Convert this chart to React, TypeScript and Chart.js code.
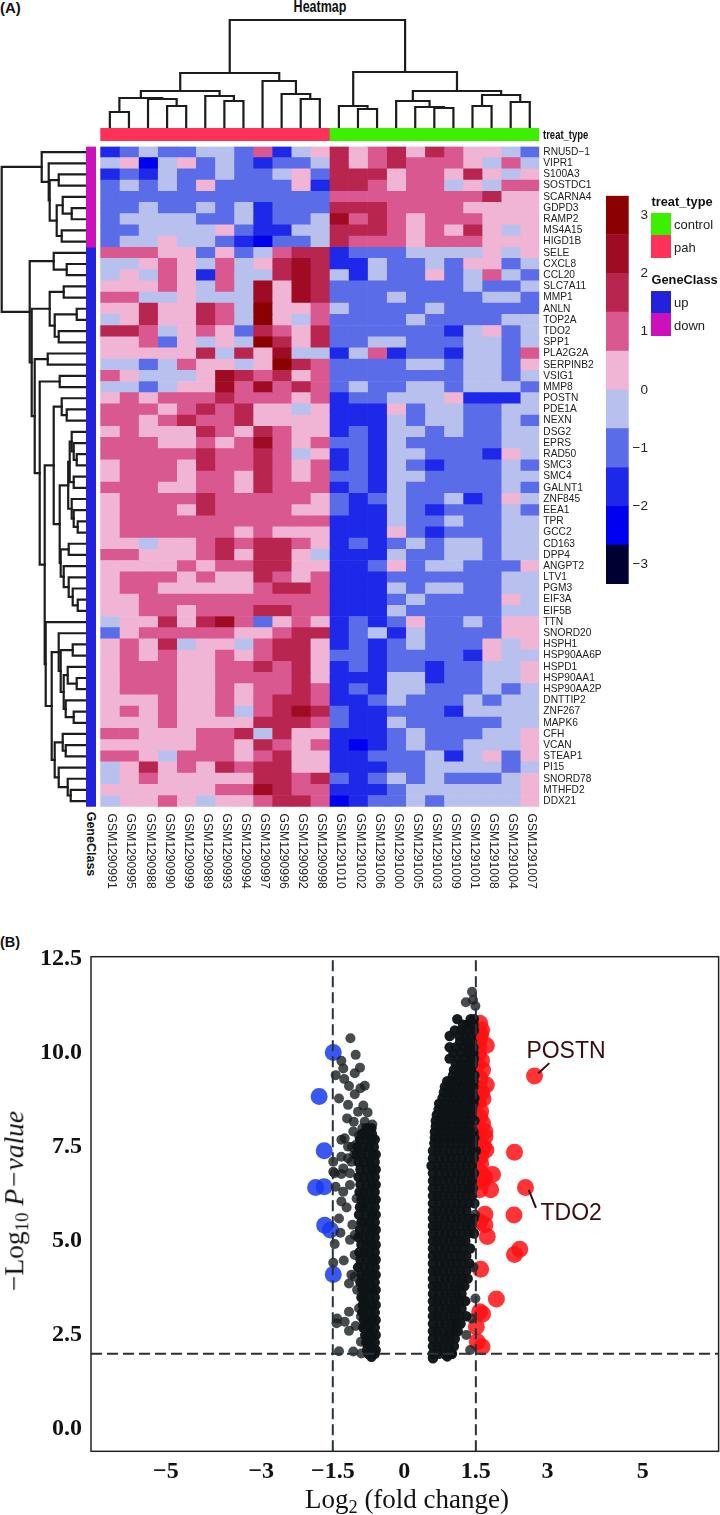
import React, { useEffect, useRef } from "react";
import { Chart, registerables } from "chart.js";
Chart.register(...registerables);

const sampleNames = ["GSM1290991","GSM1290995","GSM1290988","GSM1290990","GSM1290999","GSM1290989","GSM1290993","GSM1290994","GSM1290997","GSM1290996","GSM1290992","GSM1290998","GSM1291010","GSM1291002","GSM1291006","GSM1291000","GSM1291005","GSM1291003","GSM1291009","GSM1291001","GSM1291008","GSM1291004","GSM1291007"];
const geneNames = ["RNU5D−1","VIPR1","S100A3","SOSTDC1","SCARNA4","GDPD3","RAMP2","MS4A15","HIGD1B","SELE","CXCL8","CCL20","SLC7A11","MMP1","ANLN","TOP2A","TDO2","SPP1","PLA2G2A","SERPINB2","VSIG1","MMP8","POSTN","PDE1A","NEXN","DSG2","EPRS","RAD50","SMC3","SMC4","GALNT1","ZNF845","EEA1","TPR","GCC2","CD163","DPP4","ANGPT2","LTV1","PGM3","EIF3A","EIF5B","TTN","SNORD20","HSPH1","HSP90AA6P","HSPD1","HSP90AA1","HSP90AA2P","DNTTIP2","ZNF267","MAPK6","CFH","VCAN","STEAP1","PI15","SNORD78","MTHFD2","DDX21"];
// Colour bin of each cell, 0 (lowest) to 9 (highest), one string per gene and one digit per sample.
const heatRows = [
"23433443624575675765543","45145343233475676665464","23243343345377756657545","34343533335277656645466","33333333333366666666755",
"33433434233377766665555","34444334233486765666555","33444453224477765657545","34454432133476665666555","66655353467723334444545",
"44565464578722433435534","45465264478742433534643","55565464858733333334334","66445444858733343333443","55755764955643333433333",
"45755764954633334333344","77645653765733333324534","55635454975733443334434","55555747584424623324436","44346554597633334434435",
"65444587675633333334434","44345586867634334434443","56566676665623344452224","66656767554522253443344","66567667555522243443343",
"56555765765523244343344","66655656865633243333344","66666766764523244333254","56665766765623243233343","56665665765633244333344",
"66655665766623243333343","56666766666532343342354","56665766665532243233343","56666666666622243343344","56666665655522253233344",
"55455676776523234344344","66555675775422243344344","55556566775522353443335","56665655765622233333344","56655555677622243443344",
"55666666666622234333354","55665666776622243333344","45575786356523235334355","35666665567723424333355","56574554677523234333545",
"56565565677533233332544","56665566767523233233445","56665566667522244233445","56665565667623244333434","55565565677622343334344",
"56565564678732233324444","55565555777632243333344","66555667475522234333445","55555665765621234334445","66546665675522333424535",
"45756576775522233444434","45655555776732343433345","55555566876622234444445","45565455677612334344445"];
const heatColors = ["#000033","#0000f0","#1e28e8","#5a6ce8","#b8c0ee","#f0b4d4","#d9588f","#b8254f","#9e0b22","#8b0000"];
const colorBreaks = [-3.333,-2.667,-2,-1.333,-0.667,0,0.667,1.333,2,2.667,3.333];
const colorTicks = [-3,-2,-1,0,1,2,3];

// Leaf = index; a merge = 100 + its position in the list. [left, right, height]
const topMerges = [[0,1,15],[3,4,21],[2,101,28],[100,102,29],[6,7,26],[5,104,31],[103,105,36],[10,11,28],[9,107,33],[8,108,46],[106,109,54],[13,14,18],[12,111,21],[17,18,19],[16,113,20],[15,114,26],[19,20,21],[21,22,25],[116,117,32],[115,118,36],[112,119,55],[110,120,107]];
const leftMerges = [[5,6,14],[4,100,23],[7,8,24],[101,102,29],[2,3,27],[104,103,36],[1,105,37],[0,106,44],[10,11,19],[9,108,32],[12,13,22],[14,15,9],[16,17,27],[111,112,31],[110,113,36],[18,19,38],[20,21,26],[23,24,19],[22,117,24],[27,28,9],[26,119,12],[25,120,14],[29,30,12],[121,122,16],[33,34,8],[32,124,12],[31,125,14],[123,126,17.5],[35,36,17],[40,41,8],[39,129,13],[38,130,17],[37,131,22],[128,132,25],[127,133,26],[118,134,32],[44,45,13],[47,48,9],[46,137,18],[50,51,12],[49,139,20],[138,140,22],[136,141,25],[43,142,27],[53,54,20],[52,144,23],[57,58,15],[56,146,18],[55,147,27],[145,148,31],[143,149,34],[42,150,40],[135,151,41],[116,152,46],[115,153,51],[114,154,54],[109,155,56],[107,156,84]];
const treatGroups = [{ name: "pah", n: 12, color: "#ff3158" }, { name: "control", n: 11, color: "#3cf000" }];
const geneGroups = [{ name: "down", n: 9, color: "#cc10bb" }, { name: "up", n: 50, color: "#2222dd" }];

// Volcano plot
const xTicks = [-5,-3,-1.5,0,1.5,3,5];
const yTicks = [0,2.5,5,7.5,10,12.5];
const bluePoints = [[-1.49,10.01],[-1.786,8.84],[-1.68,7.4],[-1.86,6.42],[-1.68,6.44],[-1.67,5.42],[-1.55,5.29],[-1.49,4.11]];
const redPoints = [[2.73,9.39],[1.58,10.79],[1.62,10.61],[1.72,10.2],[1.58,10.39],[1.55,9.99],[1.64,9.55],[1.58,9.33],[1.72,9.15],[1.55,9.06],[1.65,8.78],[1.55,8.71],[1.48,8.66],[1.64,8.13],[1.69,7.91],[1.69,7.77],[1.55,7.64],[1.71,7.42],[2.31,7.36],[1.55,7.91],[1.58,6.84],[1.85,6.77],[1.69,6.69],[1.58,6.36],[1.81,6.36],[1.64,6.58],[2.54,6.42],[2.3,5.69],[1.69,5.71],[1.69,5.43],[1.58,5.51],[1.74,5.12],[2.42,4.78],[2.31,4.64],[1.6,4.25],[1.93,3.46],[1.64,3.06],[1.58,3.12],[1.51,2.72],[1.53,2.32],[1.63,2.19],[1.6,10.5],[1.56,10.2],[1.62,9.8],[1.52,9.7],[1.62,8.95],[1.6,8.45],[1.58,8.3],[1.66,7.5],[1.6,7.25],[1.6,7.05],[1.55,6.6]];
const grayScatter = [[-1.13,10.39],[-1.02,9.95],[-1.32,9.79],[-0.93,9.61],[-1.28,9.59],[-1.44,9.41],[-1.04,9.46],[-1.26,9.31],[-1.16,9.12],[-0.83,9.13],[-0.92,9.06],[-1.04,8.9],[-1.37,8.79],[-0.86,8.6],[-1.18,8.62],[-0.77,8.42],[-0.97,8.44],[-1.2,8.26],[-1.06,8.17],[-0.83,8.17],[-0.67,8.1],[-1.32,7.69],[-1.25,7.73],[-1.07,7.91],[-1.18,7.51],[-1.32,7.24],[-1.49,7.11],[-1.11,7.11],[-1.49,6.84],[-1.28,6.93],[-1.46,6.8],[-1.32,6.78],[-1.14,6.8],[-1.44,6.44],[-1.28,6.31],[-1.14,6.49],[-1.32,6.05],[-1.21,5.89],[-1,6.13],[-1.37,5.6],[-1.09,5.43],[-1.34,5.22],[-1.46,4.92],[-1.14,5.03],[-1.04,5.16],[-1.04,4.63],[-1.27,4.48],[-1.49,4.42],[-1.11,4.1],[-1.04,4.05],[-1.16,3.87],[-0.99,3.7],[-1.16,3.12],[-1.41,2.94],[-1.42,2.81],[-1.25,2.85],[-1.02,2.74],[-1.16,2.61],[-0.91,2.99],[-0.95,3.21],[-0.91,2.32],[-1.37,2.07],[-1.07,2.06],[-0.9,2.01],
[-1.1,7.5],[-1.05,7.3],[-1.18,7.2],[-1.02,7.55],[-0.95,7.8],[-0.88,8],
[1.42,11.63],[1.29,11.35],[1.44,11.41],[1.49,11.25],[1.41,2.94],[1.49,3.47],[1.3,2.5],[1.38,2.1],[1.45,4.3],[1.48,5.7]];
// Dense clouds: [y, x, x, ...]
const leftCloud = [[8,-0.79,-0.69],[7.85,-0.88,-0.76,-0.68],[7.7,-0.93,-0.8,-0.7,-0.62],[7.5,-0.98,-0.86,-0.74,-0.64],[7.3,-1,-0.9,-0.78,-0.66,-0.6],[7.1,-0.96,-0.84,-0.72,-0.62],[6.9,-0.92,-0.8,-0.68,-0.6],[6.7,-0.96,-0.84,-0.72,-0.62],[6.5,-0.92,-0.8,-0.68,-0.6],[6.3,-0.94,-0.84,-0.72,-0.62],[6.1,-0.9,-0.8,-0.68,-0.6],[5.9,-0.93,-0.84,-0.72,-0.62],[5.7,-0.95,-0.8,-0.68,-0.6],[5.5,-0.9,-0.84,-0.72,-0.62],[5.3,-0.93,-0.8,-0.68,-0.6],[5.1,-0.96,-0.84,-0.72,-0.62],[4.9,-0.9,-0.8,-0.68,-0.6],[4.7,-0.94,-0.84,-0.72,-0.62],[4.5,-0.92,-0.8,-0.68,-0.6],[4.3,-0.97,-0.84,-0.72,-0.62],[4.1,-0.9,-0.8,-0.68,-0.6],[3.9,-0.92,-0.84,-0.72,-0.62],[3.7,-0.88,-0.8,-0.68,-0.6],[3.5,-0.9,-0.84,-0.72,-0.62],[3.3,-0.87,-0.8,-0.68,-0.6],[3.1,-0.88,-0.84,-0.72,-0.62],[2.9,-0.85,-0.78,-0.68,-0.6],[2.7,-0.86,-0.82,-0.72,-0.62],[2.5,-0.82,-0.76,-0.68,-0.6],[2.3,-0.8,-0.72,-0.62],[2.1,-0.78,-0.68,-0.6],[2,-0.75,-0.62],[1.92,-0.69]];
const rightCloud = [[10.9,1.11,1.39,1.46],[10.75,1.23,1.32,1.45],[10.6,1.06,1.2,1.33,1.46],[10.45,0.95,1.15,1.28,1.4],[10.3,1.17,1.3,1.42],[10.15,0.95,1.08,1.24,1.36,1.45],[10,1.03,1.2,1.33,1.45],[9.85,0.95,1.13,1.26,1.4,1.46],[9.7,1.08,1.2,1.32,1.44],[9.55,1.04,1.16,1.28,1.4],[9.4,1.02,1.14,1.26,1.38,1.47],[9.25,0.9,1,1.12,1.24,1.36,1.45],[9.1,0.85,0.97,1.09,1.21,1.33,1.45],[8.95,0.83,0.95,1.07,1.19,1.31,1.43],[8.8,0.8,0.92,1.04,1.16,1.28,1.4,1.47],[8.65,0.73,0.85,0.97,1.09,1.21,1.33,1.45],[8.5,0.72,0.82,0.94,1.06,1.18,1.3,1.42],[8.35,0.68,0.8,0.92,1.04,1.16,1.28,1.4],[8.2,0.66,0.78,0.9,1.02,1.14,1.26,1.38,1.47],[8.05,0.66,0.76,0.88,1,1.12,1.24,1.36],[7.9,0.64,0.76,0.88,1,1.12,1.24,1.36,1.45],
[7.75,0.64,0.72,0.84,0.96,1.08,1.2,1.32,1.47],[7.6,0.63,0.72,0.84,0.96,1.08,1.2,1.32,1.44],[7.4,0.6,0.7,0.82,0.94,1.06,1.18,1.3,1.42,1.5],[7.2,0.6,0.74,0.86,0.98,1.1,1.22,1.34,1.46],[7,0.57,0.7,0.82,0.94,1.06,1.18,1.3,1.42],[6.8,0.6,0.74,0.86,0.98,1.1,1.22,1.34,1.46],[6.6,0.6,0.7,0.82,0.94,1.06,1.18,1.3,1.42],[6.4,0.6,0.74,0.86,0.98,1.1,1.22,1.34,1.44],[6.2,0.6,0.7,0.82,0.94,1.06,1.18,1.3,1.42],[6,0.6,0.74,0.86,0.98,1.1,1.22,1.34,1.47],[5.8,0.6,0.7,0.82,0.94,1.06,1.18,1.3],[5.6,0.6,0.74,0.86,0.98,1.1,1.22,1.34,1.45],[5.4,0.6,0.7,0.82,0.94,1.06,1.18,1.3,1.4],[5.2,0.6,0.74,0.86,0.98,1.1,1.22,1.34,1.46],[5,0.6,0.7,0.82,0.94,1.06,1.18,1.28],[4.8,0.6,0.74,0.86,0.98,1.1,1.22,1.38],[4.6,0.6,0.7,0.82,0.94,1.06,1.18,1.3],[4.4,0.6,0.74,0.86,0.98,1.1,1.22,1.36],[4.2,0.6,0.7,0.82,0.94,1.06,1.18,1.3],[4,0.6,0.74,0.86,0.98,1.1,1.2,1.33],[3.8,0.6,0.7,0.82,0.94,1.06,1.16,1.26],[3.6,0.6,0.74,0.86,0.98,1.08,1.2],[3.4,0.6,0.7,0.82,0.94,1.06,1.16,1.28],[3.2,0.6,0.74,0.86,0.98,1.08,1.2],[3,0.6,0.7,0.82,0.94,1.06,1.16,1.3],[2.8,0.6,0.74,0.86,0.98,1.08,1.18],[2.6,0.6,0.7,0.82,0.94,1.04,1.12],[2.4,0.6,0.74,0.86,0.96,1.06],[2.2,0.6,0.7,0.82,0.94,1.04],[2,0.6,0.72,0.84,0.98,1],[1.93,0.9],[1.88,0.6]];
const foldCuts = [-1.5, 1.5];
const pCut = 2;
const geneCallouts = [
  { name: "POSTN", x: 3.39, y: 10.03, line: [[3.04,9.73],[2.81,9.46]] },
  { name: "TDO2", x: 3.5, y: 5.72, line: [[2.61,6.36],[2.76,5.88]] },
];

const SANS = "'Liberation Sans', Arial, sans-serif";
const SERIF = "'Liberation Serif', 'Times New Roman', serif";
const off = { display: false };
const noPad = (s: any) => { s.paddingLeft = 0; s.paddingRight = 0; s.paddingTop = 0; s.paddingBottom = 0; };

function dendroSegments(merges: number[][], horizontal: boolean) {
  const pos: Record<number, number> = {};
  const hgt: Record<number, number> = {};
  const at = (n: number) => (n >= 100 ? pos[n] : n + 0.5);
  const ht = (n: number) => (n >= 100 ? hgt[n] : 0);
  return merges.map(([a, b, h], k) => {
    const pa = at(a), pb = at(b);
    pos[100 + k] = (pa + pb) / 2;
    hgt[100 + k] = h;
    const path = [[pa, ht(a)], [pa, h], [pb, h], [pb, ht(b)]];
    return {
      data: path.map(([p, v]) => (horizontal ? { x: p, y: v } : { x: v, y: p })),
      showLine: true, pointRadius: 0, borderColor: "#1c1c1c", borderWidth: 2.2, tension: 0, clip: false,
      borderCapStyle: "square", borderJoinStyle: "miter",
    };
  });
}

const base = { responsive: false, animation: false, plugins: { legend: off, tooltip: { enabled: false } }, events: [] as string[] };

const heatmapConfig = () => ({
  type: "bar",
  data: {
    labels: geneNames,
    datasets: sampleNames.map((name, c) => ({
      label: name,
      data: geneNames.map(() => 1),
      backgroundColor: heatRows.map((row) => heatColors[+row[c]]),
      barPercentage: 1, categoryPercentage: 1, borderWidth: 0,
    })),
  },
  options: {
    ...base, indexAxis: "y",
    layout: { autoPadding: false, padding: { left: 0.3, top: 0.5 } },
    scales: {
      x: {
        type: "linear", stacked: true, min: 0, max: 23, position: "bottom",
        grid: off, border: off,
        afterBuildTicks: (s: any) => { s.ticks = sampleNames.map((_, i) => ({ value: i + 0.6 })); },
        afterFit: (s: any) => { s.height = 93.3; noPad(s); },
        ticks: { autoSkip: false, minRotation: -90, maxRotation: -90, padding: 74, color: "#222", font: { family: SANS, size: 12.2 },
          callback: (_v: any, i: number) => sampleNames[i] },
      },
      y: {
        stacked: true, position: "right", grid: { display: false, drawTicks: false }, border: off,
        afterFit: (s: any) => { s.width = 180.7; noPad(s); },
        ticks: { autoSkip: false, padding: 4, color: "#222", font: { family: SANS, size: 10.2 } },
      },
    },
  },
});

const treatBarConfig = () => ({
  type: "bar",
  data: { labels: ["treat_type"], datasets: treatGroups.map((g) => ({ label: g.name, data: [g.n], backgroundColor: g.color, barPercentage: 1, categoryPercentage: 1 })) },
  options: { ...base, indexAxis: "y", layout: { autoPadding: false, padding: { left: 0.3, right: 0.7 } },
    scales: { x: { display: false, stacked: true, min: 0, max: 23 }, y: { display: false, stacked: true } } },
});

const geneBarConfig = () => ({
  type: "bar",
  data: { labels: ["GeneClass"], datasets: geneGroups.map((g) => ({ label: g.name, data: [g.n], backgroundColor: g.color, barPercentage: 1, categoryPercentage: 1 })) },
  options: { ...base, layout: { autoPadding: false, padding: { top: 0.5, bottom: 0.3 } },
    scales: { y: { display: false, stacked: true, reverse: true, min: 0, max: 59 }, x: { display: false, stacked: true } } },
});

const topDendroConfig = () => ({
  type: "scatter",
  data: { datasets: dendroSegments(topMerges, true) },
  options: { ...base, layout: { autoPadding: false, padding: { left: 0.3, right: 0.7, top: 2, bottom: 2 } },
    scales: { x: { display: false, type: "linear", min: 0, max: 23 }, y: { display: false, min: 0, max: 107 } } },
});

const leftDendroConfig = () => ({
  type: "scatter",
  data: { datasets: dendroSegments(leftMerges, false) },
  options: { ...base, layout: { autoPadding: false, padding: { left: 1.7, right: 0.3, top: 0.5, bottom: 0.3 } },
    scales: { x: { display: false, type: "linear", reverse: true, min: 0, max: 84 }, y: { display: false, reverse: true, min: 0, max: 59 } } },
});

const colorKeyConfig = () => ({
  type: "bar",
  data: {
    labels: ["z"],
    datasets: heatColors.map((color, i) => ({ data: [[colorBreaks[i], colorBreaks[i + 1]]], backgroundColor: color, barPercentage: 1, categoryPercentage: 1, grouped: false })),
  },
  options: { ...base, layout: { autoPadding: false, padding: { top: 0.7, bottom: 1 } },
    scales: {
      x: { display: false, stacked: false },
      y: { min: colorBreaks[0], max: colorBreaks[10], position: "right", grid: { display: false, drawTicks: false }, border: off,
        afterBuildTicks: (s: any) => { s.ticks = colorTicks.map((value) => ({ value })); },
        afterFit: (s: any) => { s.width = 19.3; noPad(s); },
        ticks: { crossAlign: "far", padding: 2, color: "#222", font: { family: SANS, size: 13.5 },
          callback: (v: number) => String(v).replace("-", "−") } },
    } },
});

const cloudPoints = (rows: number[][]) => rows.flatMap(([y, ...xs]) => xs.map((x) => ({ x, y })));
const toXY = (pts: number[][]) => pts.map(([x, y]) => ({ x, y }));

const frameAndLabels = {
  id: "frameAndLabels",
  afterDatasetsDraw(chart: any) {
    const { ctx, chartArea: a, scales } = chart;
    ctx.save();
    ctx.strokeStyle = "#222";
    ctx.lineWidth = 1.5;
    ctx.strokeRect(a.left, a.top, a.right - a.left, a.bottom - a.top);
    ctx.fillStyle = "#3a0c10";
    ctx.font = `23px ${SANS}`;
    ctx.textAlign = "center";
    ctx.textBaseline = "middle";
    geneCallouts.forEach((g) => ctx.fillText(g.name, scales.x.getPixelForValue(g.x), scales.y.getPixelForValue(g.y)));
    ctx.restore();
  },
};

const volcanoConfig = () => {
  const dash = { showLine: true, pointRadius: 0, borderColor: "#27323a", borderWidth: 2, borderDash: [11, 5], order: 0 };
  return {
    type: "scatter",
    data: {
      datasets: [
        { data: toXY(bluePoints), backgroundColor: "rgba(24,58,240,0.85)", pointRadius: 8.5, borderWidth: 0, order: 4 },
        { data: toXY(redPoints), backgroundColor: "rgba(255,16,20,0.85)", pointRadius: 8.5, borderWidth: 0, order: 4 },
        { data: toXY(grayScatter), backgroundColor: "rgba(24,30,33,0.8)", pointRadius: 5, borderWidth: 0, order: 3 },
        { data: [...cloudPoints(leftCloud), ...cloudPoints(rightCloud)], backgroundColor: "rgba(14,20,23,0.97)", pointRadius: 5.2, borderWidth: 0, order: 2 },
        ...geneCallouts.map((g) => ({ data: toXY(g.line), showLine: true, pointRadius: 0, borderColor: "#3a0c10", borderWidth: 2, order: 1 })),
        ...foldCuts.map((x) => ({ ...dash, data: [{ x, y: -0.593 }, { x, y: 12.56 }] })),
        { ...dash, data: [{ x: -6.57, y: pCut }, { x: 6.59, y: pCut }] },
      ],
    },
    options: {
      ...base,
      layout: { autoPadding: false, padding: { top: 11.7, right: 1.4 } },
      scales: {
        x: { type: "linear", min: -6.57, max: 6.59, grid: { display: false, drawTicks: true, tickLength: 6, tickWidth: 1.8, tickColor: "#222" }, border: off,
          afterBuildTicks: (s: any) => { s.ticks = xTicks.map((value) => ({ value })); },
          afterFit: (s: any) => { s.height = 63.7; noPad(s); },
          ticks: { autoSkip: false, maxRotation: 0, padding: 0, color: "#111", font: { family: SERIF, size: 24, weight: "bold" },
            callback: (v: number) => String(v).replace("-", "−") } },
        y: { min: -0.593, max: 12.56, grid: { display: false, drawTicks: true, tickLength: 6, tickWidth: 1.8, tickColor: "#222" }, border: off,
          afterBuildTicks: (s: any) => { s.ticks = yTicks.map((value) => ({ value })); },
          afterFit: (s: any) => { s.width = 91; noPad(s); },
          ticks: { padding: 3, color: "#111", font: { family: SERIF, size: 24, weight: "bold" }, callback: (v: number) => v.toFixed(1) } },
      },
    },
    plugins: [frameAndLabels],
  };
};

function Panel({ config, left, top, width, height }: { config: () => any; left: number; top: number; width: number; height: number }) {
  const ref = useRef<HTMLCanvasElement>(null);
  useEffect(() => {
    const chart = new Chart(ref.current as HTMLCanvasElement, config());
    return () => chart.destroy();
  }, []);
  return <canvas ref={ref} width={width} height={height} style={{ position: "absolute", left, top, width, height }} />;
}

function Label({ x, y, children, font, color = "#111", rotate, center, stretch }: any) {
  const tf = `${center ? "translate(-50%,-50%)" : "translateY(-50%)"}${rotate ? ` rotate(${rotate}deg)` : ""}${stretch ? ` scaleY(${stretch})` : ""}`;
  return <div style={{ position: "absolute", left: x, top: y, transform: tf, font, color, whiteSpace: "nowrap", lineHeight: 1 }}>{children}</div>;
}

function Swatch({ x, y, w, h, color }: any) {
  return <div style={{ position: "absolute", left: x, top: y, width: w, height: h, background: color }} />;
}

const sub = { fontSize: "0.68em", lineHeight: 0, verticalAlign: "-0.28em" };

export default function App() {
  return (
    <div style={{ position: "absolute", left: 0, top: 0, width: 720, height: 1515, overflow: "hidden", background: "#fff" }}>
      <Label x={0} y={7} font={`bold 15px ${SANS}`}>(A)</Label>
      <Label x={320} y={7} center stretch={1.25} font={`bold 12.5px ${SANS}`}>Heatmap</Label>
      <Panel config={topDendroConfig} left={100} top={18} width={440} height={111} />
      <Panel config={treatBarConfig} left={100} top={128} width={440} height={13} />
      <Label x={543} y={135} stretch={1.25} font={`bold 9.5px ${SANS}`}>treat_type</Label>
      <Panel config={leftDendroConfig} left={0} top={146} width={86} height={661} />
      <Panel config={geneBarConfig} left={86} top={146} width={10} height={661} />
      <Panel config={heatmapConfig} left={100} top={146} width={620} height={754} />
      <Label x={90.5} y={844} center rotate={90} font={`bold 12.5px ${SANS}`}>GeneClass</Label>
      <Panel config={colorKeyConfig} left={606} top={195} width={42} height={390} />
      <Label x={651.5} y={202} font={`bold 12.8px ${SANS}`}>treat_type</Label>
      <Swatch x={651} y={212.7} w={20} h={22.5} color={treatGroups[1].color} />
      <Swatch x={651} y={235.2} w={20} h={22.8} color={treatGroups[0].color} />
      <Label x={674} y={224} font={`13px ${SANS}`} color="#222">control</Label>
      <Label x={674} y={247} font={`13px ${SANS}`} color="#222">pah</Label>
      <Label x={651.5} y={280} font={`bold 12.8px ${SANS}`}>GeneClass</Label>
      <Swatch x={651} y={290.5} w={20} h={22.7} color={geneGroups[1].color} />
      <Swatch x={651} y={313.2} w={20} h={22.8} color={geneGroups[0].color} />
      <Label x={674} y={302} font={`13px ${SANS}`} color="#222">up</Label>
      <Label x={674} y={325} font={`13px ${SANS}`} color="#222">down</Label>

      <Label x={0} y={942} font={`bold 14.5px ${SANS}`}>(B)</Label>
      <Panel config={volcanoConfig} left={0} top={945} width={720} height={570} />
      <Label x={14} y={1201} center rotate={-90} font={`27.5px ${SERIF}`}>
        −Log<span style={sub}>10</span> <i>P−value</i>
      </Label>
      <Label x={407} y={1499} center font={`27px ${SERIF}`}>
        Log<span style={sub}>2</span> (fold change)
      </Label>
    </div>
  );
}
